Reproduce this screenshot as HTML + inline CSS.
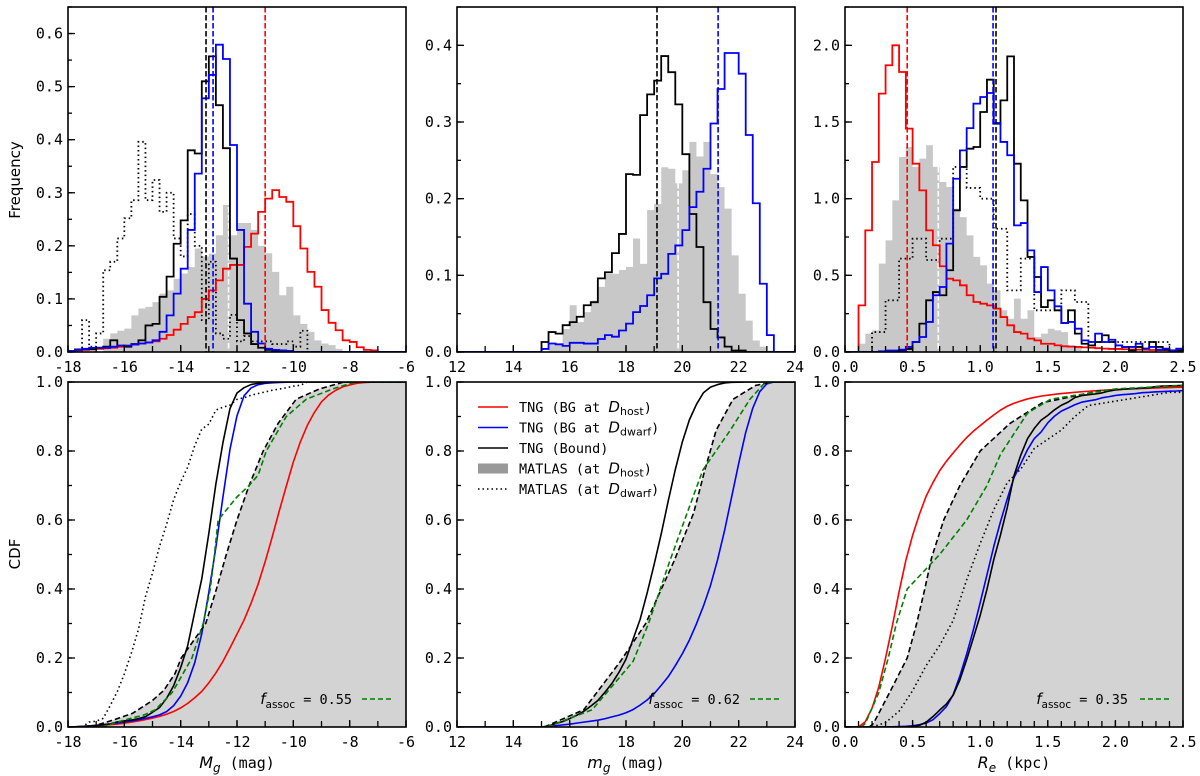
<!DOCTYPE html>
<html><head><meta charset="utf-8"><style>
html,body{margin:0;padding:0;background:#fff;}
svg{display:block;}
.tk{font-family:"DejaVu Sans Mono","Liberation Mono",monospace;font-size:15px;fill:#000;}
.lab{font-family:"DejaVu Sans","Liberation Sans",sans-serif;font-size:15px;fill:#000;}
.lg{font-family:"DejaVu Sans Mono","Liberation Mono",monospace;font-size:13.5px;fill:#000;}
</style></head><body>
<svg id="fig" width="1200" height="776" viewBox="0 0 1200 776" xmlns="http://www.w3.org/2000/svg"></svg>
<script>
// ---------- DATA ----------
const p1Bins = {start:-18, width:0.25};
const red1 = [0.002,0.003,0.004,0.005,0.006,0.007,0.008,0.010,0.012,0.014,0.016,0.018,0.020,0.025,0.032,0.042,0.053,0.066,0.075,0.100,0.116,0.135,0.157,0.164,0.164,0.198,0.223,0.264,0.289,0.305,0.292,0.283,0.237,0.195,0.151,0.123,0.079,0.055,0.041,0.022,0.019,0.009,0.004,0.003,0,0,0,0];
const blue1 = [0.002,0.004,0.006,0.008,0.008,0.008,0.010,0.012,0.012,0.014,0.016,0.018,0.022,0.038,0.069,0.110,0.157,0.230,0.336,0.478,0.522,0.579,0.552,0.390,0.230,0.091,0.038,0.016,0.006,0.004,0.003,0.002,0,0,0,0,0,0,0,0,0,0,0,0,0,0,0,0];
const black1 = [0.002,0.005,0.005,0.005,0.008,0.010,0.022,0.012,0.010,0.015,0.022,0.050,0.053,0.104,0.142,0.204,0.248,0.380,0.374,0.510,0.557,0.465,0.384,0.176,0.060,0.035,0.015,0.008,0.004,0.002,0,0,0,0,0,0,0,0,0,0,0,0,0,0,0,0,0,0];
const dotted1 = [0,0,0.060,0.010,0.035,0.154,0.170,0.214,0.252,0.286,0.396,0.286,0.324,0.264,0.300,0.214,0.180,0.260,0.200,0.060,0.170,0.035,0.025,0.070,0.020,0.030,0.020,0.020,0.020,0.015,0.015,0.020,0.010,0.040,0,0,0,0,0,0,0,0,0,0,0,0,0,0];
const grey1 = [0,0,0,0,0,0.025,0.035,0.040,0.044,0.069,0.082,0.085,0.094,0.110,0.116,0.138,0.148,0.160,0.195,0.180,0.185,0.220,0.277,0.220,0.243,0.243,0.230,0.200,0.186,0.151,0.107,0.123,0.069,0.053,0.038,0.022,0.016,0.013,0.006,0,0,0,0,0,0,0,0,0];
const medians1 = {black:-13.1, blue:-12.85, red:-11.0, white:-12.3};
const dashX1 = [-17.2,-16.4,-15.7,-15.0,-14.6,-14.2,-13.98,-13.11,-12.73,-12.38,-12.0,-11.57,-11.07,-10.54,-9.9,-9.07,-8.2,-6];
const dashY1 = [0,0.02,0.04,0.077,0.106,0.155,0.2,0.3,0.4,0.5,0.6,0.7,0.8,0.88,0.95,0.98,1,1];
const greenX1 = [-16.8,-16,-15.3,-14.9,-14.3,-13.6,-13.2,-12.95,-12.8,-12.67,-12.0,-11.57,-11.25,-10.96,-10.25,-9.54,-8.6,-7.8,-6];
const greenY1 = [0,0.02,0.035,0.05,0.1,0.2,0.3,0.4,0.5,0.6,0.667,0.7,0.73,0.8,0.9,0.95,0.98,1,1];

const p2Bins = {start:12, width:0.25};
const black2 = [0,0,0,0,0,0,0,0,0,0,0,0,0.013,0.026,0.024,0.035,0.039,0.046,0.061,0.065,0.096,0.104,0.129,0.154,0.232,0.231,0.309,0.336,0.354,0.386,0.365,0.323,0.258,0.180,0.137,0.065,0.030,0.019,0.007,0.002,0.002,0,0,0,0,0,0,0];
const blue2 = [0,0,0,0,0,0,0,0,0,0,0,0,0.004,0.011,0.010,0.008,0.012,0.012,0.011,0.011,0.017,0.022,0.020,0.028,0.037,0.052,0.060,0.074,0.096,0.102,0.128,0.139,0.159,0.189,0.209,0.239,0.298,0.343,0.390,0.390,0.363,0.283,0.194,0.089,0.022,0,0,0];
const grey2 = [0,0,0,0,0,0,0,0,0,0,0,0,0,0.009,0.011,0.030,0.061,0.039,0.052,0.067,0.085,0.102,0.102,0.107,0.111,0.148,0.115,0.185,0.193,0.241,0.239,0.220,0.237,0.274,0.255,0.274,0.232,0.215,0.187,0.126,0.076,0.041,0.015,0.007,0.002,0,0,0];
const medians2 = {black:19.1, blue:21.27, white:19.85};
const dashX2 = [15.1,16.5,17.8,18.7,19.7,20.4,20.8,21.2,21.8,22.6,23.2,24];
const dashY2 = [0,0.05,0.19,0.3,0.48,0.62,0.745,0.86,0.95,0.99,1,1];
const greenX2 = [15.2,16.8,18.25,18.8,19.55,20.17,20.73,21.7,22.4,22.9,23.2,24];
const greenY2 = [0,0.05,0.19,0.3,0.48,0.62,0.745,0.86,0.95,0.995,1,1];

const p3Bins = {start:0, width:0.05};
const red3 = [0,0,0.304,0.793,1.239,1.685,1.870,2.000,1.826,1.457,1.228,1.054,0.793,0.696,0.559,0.478,0.467,0.435,0.370,0.326,0.315,0.304,0.283,0.228,0.174,0.130,0.120,0.087,0.076,0.054,0.054,0.043,0.037,0.035,0.033,0.030,0.028,0.025,0.022,0.020,0.020,0.018,0.016,0.015,0.015,0.013,0.012,0.012,0.011,0.010];
const blue3 = [0,0,0,0,0,0.005,0.010,0.010,0.015,0.033,0.065,0.098,0.196,0.370,0.424,0.707,1.130,1.315,1.460,1.620,1.663,1.689,1.493,1.370,1.283,0.826,0.841,0.663,0.391,0.554,0.402,0.298,0.189,0.196,0.152,0.076,0.065,0.120,0.065,0.080,0.043,0.033,0.033,0.054,0.022,0.033,0.015,0.022,0.010,0.022];
const black3 = [0,0,0,0,0,0,0,0.005,0.010,0.020,0.065,0.185,0.337,0.391,0.370,0.533,0.924,1.207,1.326,1.337,1.565,1.776,1.489,1.641,1.928,1.228,0.989,0.620,0.489,0.293,0.337,0.272,0.189,0.272,0.120,0.054,0.043,0.065,0.109,0.065,0.043,0.033,0.010,0.033,0.022,0.065,0.033,0.015,0.010,0.010];
const grey3 = [0,0,0.054,0.120,0.141,0.576,0.728,0.989,1.272,1.337,1.207,1.261,1.348,1.207,1.109,1.076,0.935,0.880,0.761,0.620,0.565,0.446,0.402,0.272,0.217,0.348,0.217,0.272,0.098,0.120,0.152,0.141,0.130,0.043,0.033,0.010,0,0,0,0,0,0,0,0,0,0,0,0,0,0];
const p3DotBins = {start:0, width:0.1};
const dotted3 = [0,0,0.130,0.337,0.609,0.739,0.600,0.739,1.207,1.070,1.000,0.804,0.402,0.609,0.272,0.272,0.402,0.326,0.065,0.065,0.065,0.065,0.065,0.065,0];
// fraction of each sample beyond the plotted range (CDF does not reach 1 at 2.5 kpc)
const overflow3 = {red:0.015, blue:0.025, black:0.01, dotted:0.03};
const medians3 = {red:0.46, blue:1.095, black:1.117, white:0.69};
const dashX3 = [0.18,0.21,0.33,0.46,0.53,0.59,0.64,0.73,0.85,1.0,1.22,1.46,1.89,2.5];
const dashY3 = [0,0.01,0.1,0.2,0.3,0.4,0.49,0.6,0.7,0.8,0.88,0.94,0.975,0.99];
const greenX3 = [0.12,0.15,0.25,0.32,0.38,0.46,0.58,0.70,0.9,1.05,1.15,1.35,1.52,2.0,2.5];
const greenY3 = [0,0.01,0.1,0.2,0.3,0.4,0.45,0.5,0.6,0.7,0.79,0.91,0.95,0.98,0.99];

const fassoc = ["0.55","0.62","0.35"];
const xTicks1 = ["-18","-16","-14","-12","-10","-8","-6"];
const xTicks2 = ["12","14","16","18","20","22","24"];
const xTicks3 = ["0.0","0.5","1.0","1.5","2.0","2.5"];
const yTicksTop1 = ["0.0","0.1","0.2","0.3","0.4","0.5","0.6"];
const yTicksTop2 = ["0.0","0.1","0.2","0.3","0.4"];
const yTicksTop3 = ["0.0","0.5","1.0","1.5","2.0"];
const yTicksCdf = ["0.0","0.2","0.4","0.6","0.8","1.0"];

// ---------- DRAWING ----------
const NS="http://www.w3.org/2000/svg";
const svg=document.getElementById('fig');
function el(tag,attrs,parent){const e=document.createElementNS(NS,tag);for(const k in attrs)e.setAttribute(k,attrs[k]);(parent||svg).appendChild(e);return e;}
let clipN=0;
function makeAxes(px0,px1,py0,py1,xlim,ylim,name){
  const ax={px0,px1,py0,py1,xlim,ylim};
  ax.x=v=>px0+(v-xlim[0])/(xlim[1]-xlim[0])*(px1-px0);
  ax.y=v=>py1-(v-ylim[0])/(ylim[1]-ylim[0])*(py1-py0);
  const id='clip'+(clipN++);
  const cp=el('clipPath',{id});
  el('rect',{x:px0,y:py0,width:px1-px0,height:py1-py0},cp);
  ax.g=el('g',{'clip-path':'url(#'+id+')'});
  
  
  return ax;
}
function histPath(ax,bins,vals){
  let d='M'+ax.x(bins.start)+','+ax.y(0);
  vals.forEach((v,i)=>{const a=bins.start+i*bins.width,b=a+bins.width;d+=' L'+ax.x(a)+','+ax.y(v)+' L'+ax.x(b)+','+ax.y(v);});
  d+=' L'+ax.x(bins.start+vals.length*bins.width)+','+ax.y(0);
  return d;
}
function stepLine(ax,bins,vals,color,name,dash){
  const p=el('path',{d:histPath(ax,bins,vals),fill:'none',stroke:color,'stroke-width':1.8,'stroke-linejoin':'miter'},ax.g);
  if(dash)p.setAttribute('stroke-dasharray',dash);
  
  
}
function stepFill(ax,bins,vals,name){
  const p=el('path',{d:histPath(ax,bins,vals)+' Z',fill:'#c8c8c8',stroke:'none'},ax.g);
  
  
}
function vline(ax,v,color,name){
  const l=el('line',{x1:ax.x(v),x2:ax.x(v),y1:ax.py0,y2:ax.py1,stroke:color,'stroke-width':1.6,'stroke-dasharray':'5.5,2.5'},ax.g);
  
  
}
function cdfFromHist(bins,vals,over){
  const tot=vals.reduce((a,b)=>a+b,0);const scale=1-(over||0);let c=0;const xs=[bins.start],ys=[0];
  vals.forEach((v,i)=>{c+=v;xs.push(bins.start+(i+1)*bins.width);ys.push(scale*c/tot);});
  return [xs,ys];
}
function curve(ax,xs,ys,color,name,dash,w){
  const d=xs.map((x,i)=>(i?'L':'M')+ax.x(x).toFixed(2)+','+ax.y(ys[i]).toFixed(2)).join(' ');
  const p=el('path',{d,fill:'none',stroke:color,'stroke-width':w||1.6,'stroke-linejoin':'round'},ax.g);
  if(dash)p.setAttribute('stroke-dasharray',dash);
  
  
}
function fillCurve(ax,xs,ys,name){
  let d='M'+ax.x(xs[0])+','+ax.y(0);
  xs.forEach((x,i)=>{d+=' L'+ax.x(x).toFixed(2)+','+ax.y(ys[i]).toFixed(2);});
  d+=' L'+ax.x(ax.xlim[1])+','+ax.y(ys[ys.length-1])+' L'+ax.x(ax.xlim[1])+','+ax.y(0)+' Z';
  const p=el('path',{d,fill:'#d3d3d3',stroke:'none'},ax.g);
  
  
}
function frameAndTicks(ax,xlabels,xstep,xminor,ylabels,ystep,yminor,name){
  const g=el('g',{});
  
  
  el('rect',{x:ax.px0,y:ax.py0,width:ax.px1-ax.px0,height:ax.py1-ax.py0,fill:'none',stroke:'#000','stroke-width':1.6},g);
  const eps=1e-6;
  for(let v=ax.xlim[0];v<=ax.xlim[1]+eps;v+=xminor){
    const X=ax.x(v);el('line',{x1:X,x2:X,y1:ax.py1,y2:ax.py1-6,stroke:'#000','stroke-width':1.3},g);
  }
  xlabels.forEach((t,i)=>{const v=ax.xlim[0]+i*xstep;const X=ax.x(v);
    el('line',{x1:X,x2:X,y1:ax.py1,y2:ax.py1-7,stroke:'#000','stroke-width':1.3},g);
    const tx=el('text',{x:X,y:ax.py1+20,'text-anchor':'middle',class:'tk'},g);tx.textContent=t;
    
    });
  for(let v=ax.ylim[0];v<=ax.ylim[1]+eps;v+=yminor){
    const Y=ax.y(v);el('line',{x1:ax.px0,x2:ax.px0+4,y1:Y,y2:Y,stroke:'#000','stroke-width':1.3},g);
  }
  ylabels.forEach((t,i)=>{const v=ax.ylim[0]+i*ystep;const Y=ax.y(v);
    el('line',{x1:ax.px0,x2:ax.px0+7,y1:Y,y2:Y,stroke:'#000','stroke-width':1.3},g);
    const tx=el('text',{x:ax.px0-5,y:Y+5,'text-anchor':'end',class:'tk'},g);tx.textContent=t;
    
    });
}
function fLabel(ax,xEnd,xl1,val,name){
  const t=el('text',{x:xEnd,y:704,class:'lg','text-anchor':'end'});
  
  
  const a=el('tspan',{'font-family':'DejaVu Sans, sans-serif','font-style':'italic','font-size':'15'},t);a.textContent='f';
  const b=el('tspan',{'font-family':'DejaVu Sans, sans-serif','font-size':'10.5',dy:'4'},t);b.textContent='assoc';
  const c=el('tspan',{dy:'-4','font-size':'13.5'},t);c.textContent=' = '+val;
  el('line',{x1:xl1,x2:xl1+29,y1:699,y2:699,stroke:'#008000','stroke-width':1.6,'stroke-dasharray':'5,3'});
}

const cols=[[68,406],[457,795],[845,1183]];
const TOP=[7,352], BOT=[382,727];

// Panel 1 top
let a=makeAxes(cols[0][0],cols[0][1],TOP[0],TOP[1],[-18,-6],[0,0.65],'mg-hist');
stepFill(a,p1Bins,grey1,'matlas-host-hist');
vline(a,medians1.white,'#fff','matlas-median-line');
stepLine(a,p1Bins,dotted1,'#000','matlas-dwarf-hist','1.5,3');
stepLine(a,p1Bins,red1,'#ff0000','tng-bg-host-hist');
stepLine(a,p1Bins,black1,'#000','tng-bound-hist');
stepLine(a,p1Bins,blue1,'#0000ff','tng-bg-dwarf-hist');
vline(a,medians1.black,'#000','bound-median-line');
vline(a,medians1.blue,'#0000ff','bg-dwarf-median-line');
vline(a,medians1.red,'#ff0000','bg-host-median-line');
frameAndTicks(a,xTicks1,2,1,yTicksTop1,0.1,0.05,'mg-hist');

// Panel 2 top
a=makeAxes(cols[1][0],cols[1][1],TOP[0],TOP[1],[12,24],[0,0.45],'app-mag-hist');
stepFill(a,p2Bins,grey2,'matlas-host-hist');
vline(a,medians2.white,'#fff','matlas-median-line');
stepLine(a,p2Bins,black2,'#000','tng-bound-hist');
stepLine(a,p2Bins,blue2,'#0000ff','tng-bg-dwarf-hist');
vline(a,medians2.black,'#000','bound-median-line');
vline(a,medians2.blue,'#0000ff','bg-dwarf-median-line');
frameAndTicks(a,xTicks2,2,1,yTicksTop2,0.1,0.05,'app-mag-hist');

// Panel 3 top
a=makeAxes(cols[2][0],cols[2][1],TOP[0],TOP[1],[0,2.5],[0,2.25],'re-hist');
stepFill(a,p3Bins,grey3,'matlas-host-hist');
vline(a,medians3.white,'#fff','matlas-median-line');
stepLine(a,p3DotBins,dotted3,'#000','matlas-dwarf-hist','1.5,3');
stepLine(a,p3Bins,red3,'#ff0000','tng-bg-host-hist');
stepLine(a,p3Bins,black3,'#000','tng-bound-hist');
stepLine(a,p3Bins,blue3,'#0000ff','tng-bg-dwarf-hist');
vline(a,medians3.red,'#ff0000','bg-host-median-line');
vline(a,medians3.blue,'#0000ff','bg-dwarf-median-line');
vline(a,medians3.black,'#000','bound-median-line');
frameAndTicks(a,xTicks3,0.5,0.1,yTicksTop3,0.5,0.25,'re-hist');

// Panel 1 bottom
a=makeAxes(cols[0][0],cols[0][1],BOT[0],BOT[1],[-18,-6],[0,1],'mg-cdf');
fillCurve(a,dashX1,dashY1,'matlas-host-cdf-fill');
let c=cdfFromHist(p1Bins,dotted1);curve(a,c[0],c[1],'#000','matlas-dwarf-cdf','1.5,3');
c=cdfFromHist(p1Bins,red1);curve(a,c[0],c[1],'#ff0000','tng-bg-host-cdf');
c=cdfFromHist(p1Bins,blue1);curve(a,c[0],c[1],'#0000ff','tng-bg-dwarf-cdf');
c=cdfFromHist(p1Bins,black1);curve(a,c[0],c[1],'#000','tng-bound-cdf');
curve(a,dashX1,dashY1,'#000','matlas-host-cdf','5.5,3');
curve(a,greenX1,greenY1,'#008000','fassoc-mix-cdf','5.5,3');
frameAndTicks(a,xTicks1,2,1,yTicksCdf,0.2,0.1,'mg-cdf');
fLabel(a,352,362,fassoc[0],'fassoc-label-1');

// Panel 2 bottom
a=makeAxes(cols[1][0],cols[1][1],BOT[0],BOT[1],[12,24],[0,1],'app-mag-cdf');
fillCurve(a,dashX2,dashY2,'matlas-host-cdf-fill');
c=cdfFromHist(p2Bins,blue2);curve(a,c[0],c[1],'#0000ff','tng-bg-dwarf-cdf');
c=cdfFromHist(p2Bins,black2);curve(a,c[0],c[1],'#000','tng-bound-cdf');
curve(a,dashX2,dashY2,'#000','matlas-host-cdf','5.5,3');
curve(a,greenX2,greenY2,'#008000','fassoc-mix-cdf','5.5,3');
frameAndTicks(a,xTicks2,2,1,yTicksCdf,0.2,0.1,'app-mag-cdf');
fLabel(a,740,750,fassoc[1],'fassoc-label-2');

// Panel 3 bottom
a=makeAxes(cols[2][0],cols[2][1],BOT[0],BOT[1],[0,2.5],[0,1],'re-cdf');
fillCurve(a,dashX3,dashY3,'matlas-host-cdf-fill');
c=cdfFromHist(p3DotBins,dotted3,overflow3.dotted);curve(a,c[0],c[1],'#000','matlas-dwarf-cdf','1.5,3');
c=cdfFromHist(p3Bins,red3,overflow3.red);curve(a,c[0],c[1],'#ff0000','tng-bg-host-cdf');
c=cdfFromHist(p3Bins,blue3,overflow3.blue);curve(a,c[0],c[1],'#0000ff','tng-bg-dwarf-cdf');
c=cdfFromHist(p3Bins,black3,overflow3.black);curve(a,c[0],c[1],'#000','tng-bound-cdf');
curve(a,dashX3,dashY3,'#000','matlas-host-cdf','5.5,3');
curve(a,greenX3,greenY3,'#008000','fassoc-mix-cdf','5.5,3');
frameAndTicks(a,xTicks3,0.5,0.1,yTicksCdf,0.2,0.1,'re-cdf');
fLabel(a,1128,1140,fassoc[2],'fassoc-label-3');

// Axis labels
function ylab(txt,cx,cy,name){const t=el('text',{x:cx,y:cy,class:'lab','text-anchor':'middle',transform:'rotate(-90 '+cx+' '+cy+')'});t.textContent=txt;
  
  }
ylab('Frequency',20,180,'y-axis-title-frequency');
ylab('CDF',20,554,'y-axis-title-cdf');
function xlab(cx,sym,sub,unit,name){
  const t=el('text',{x:cx,y:768,'text-anchor':'middle',class:'tk'});
  
  
  const a1=el('tspan',{'font-family':'DejaVu Sans, sans-serif','font-style':'italic','font-size':'16'},t);a1.textContent=sym;
  const a2=el('tspan',{'font-family':'DejaVu Sans, sans-serif','font-style':'italic','font-size':'12',dy:'4'},t);a2.textContent=sub;
  const a3=el('tspan',{dy:'-4'},t);a3.textContent=' ('+unit+')';
}
xlab(237,'M','g','mag','x-axis-title-abs-mag');
xlab(626,'m','g','mag','x-axis-title-app-mag');
xlab(1014,'R','e','kpc','x-axis-title-re');

// Legend
const legendLabels=[['TNG (BG at ','D','host',')'],['TNG (BG at ','D','dwarf',')'],['TNG (Bound)','','',''],['MATLAS (at ','D','host',')'],['MATLAS (at ','D','dwarf',')']];
const legG=el('g',{});


legendLabels.forEach((L,i)=>{
  const y=407+i*20.5;
  if(i<3){el('line',{x1:478,x2:508,y1:y,y2:y,stroke:['#ff0000','#0000ff','#000'][i],'stroke-width':1.6},legG);}
  else if(i===3){el('rect',{x:478,y:y-5,width:30,height:10,fill:'#999'},legG);}
  else {el('line',{x1:478,x2:508,y1:y,y2:y,stroke:'#000','stroke-width':1.6,'stroke-dasharray':'1.5,3'},legG);}
  const t=el('text',{x:519,y:y+5,class:'lg'},legG);
  
  
  const s1=el('tspan',{},t);s1.textContent=L[0];
  if(L[1]){const s2=el('tspan',{'font-family':'DejaVu Sans, sans-serif','font-style':'italic','font-size':'15'},t);s2.textContent=L[1];
    const s3=el('tspan',{'font-family':'DejaVu Sans, sans-serif','font-size':'11',dy:'3'},t);s3.textContent=L[2];
    const s4=el('tspan',{dy:'-3'},t);s4.textContent=L[3];}
});
</script>
</body></html>
